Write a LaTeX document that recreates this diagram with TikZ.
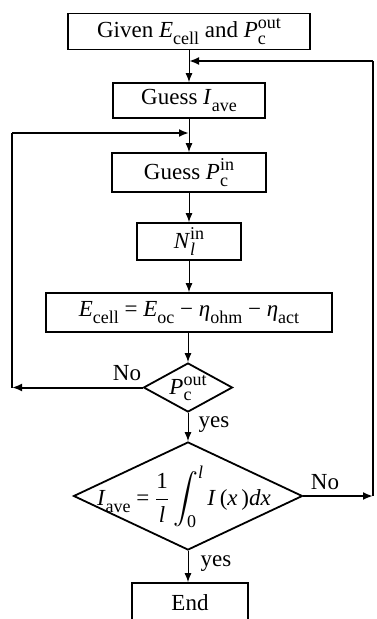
\documentclass[tikz,border=0pt]{standalone}
\usepackage{exscale}
\usepackage{fontspec}
\setmainfont{Liberation Serif}
\usetikzlibrary{arrows.meta,shapes.geometric}
\newcommand\lo[1]{\raisebox{-0.28em}{\fontsize{18}{18}\selectfont #1}}
\newcommand\hi[1]{\raisebox{0.40em}{\fontsize{18}{18}\selectfont #1}}
\newcommand\hilo[2]{\rlap{\lo{#2}}\hi{#1}}
\begin{document}
\begin{tikzpicture}[x=1pt,y=-1pt,
  font=\fontsize{23}{27}\selectfont,
  boxnode/.style={draw,line width=1.8pt,rectangle,inner sep=0pt,align=center},
  dia/.style={draw,line width=1.8pt,diamond,inner sep=0pt},
  txt/.style={inner sep=0pt},
  flow/.style={line width=1pt,-{Latex[length=9pt,width=7pt]}},
  loopline/.style={line width=2pt},
  looparrow/.style={line width=2pt,-{Latex[length=10pt,width=8pt]}},
  lbl/.style={inner sep=0pt}]
\useasboundingbox (0,0) rectangle (376,619);
\clip (0,0) rectangle (376,619);
\node[boxnode,minimum width=242pt,minimum height=36pt] (b1) at (189,31.5)
  {Given \textit{E}\lo{cell} and \textit{P}\hilo{out}{c}};
\node[boxnode,minimum width=152pt,minimum height=35pt] (b2) at (189,100.5)
  {Guess \textit{I}\lo{ave}};
\node[boxnode,minimum width=154pt,minimum height=39pt] (b3) at (189,172.5)
  {Guess \textit{P}\hilo{in}{c}};
\node[boxnode,minimum width=104pt,minimum height=37pt] (b4) at (189,241.5)
  {\textit{N}\hilo{in}{\textit{l}}};
\node[boxnode,minimum width=286pt,minimum height=39pt] (b5) at (189,312.5)
  {\textit{E}\lo{cell} = \textit{E}\lo{oc} − \textit{η}\lo{ohm} − \textit{η}\lo{act}};
\node[dia,minimum width=89pt,minimum height=49pt] (d1) at (188,387.5) {};
\node[txt] (d1t) at (188,388) {\textit{P}\hilo{out}{c}};
\node[dia,minimum width=229pt,minimum height=108pt] (d2) at (188,496) {};
\node[txt] (d2t) at (184,497) {\textit{I}\lo{ave} = $\displaystyle\frac{\mbox{1}}{\mbox{\itshape l}}\int_{\mbox{\fontsize{18}{18}\selectfont 0}}^{\mbox{\fontsize{18}{18}\selectfont\itshape l}}$\,\textit{I}\,(\textit{x}\,)\textit{dx}};
\node[boxnode,minimum width=116pt,minimum height=40pt] (b6) at (190,603) {End};
\coordinate (j0) at (189,61);
\coordinate (j1) at (189,133);
\coordinate (cL1) at (12,387.5);
\coordinate (cL2) at (12,133);
\coordinate (cR1) at (373,496);
\coordinate (cR2) at (373,61);
\draw[flow] (b1.south) -- (b2.north);
\draw[flow] (b2.south) -- (b3.north);
\draw[flow] (b3.south) -- (b4.north);
\draw[flow] (b4.south) -- (b5.north);
\draw[flow] (b5.south -| d1.north) -- (d1.north);
\draw[flow] (d1.south) -- (d2.north);
\draw[flow] (d2.south) -- (d2.south |- b6.north);
\draw[looparrow] (d1.west) -- (cL1);
\draw[loopline] (cL1) -- (cL2);
\draw[looparrow] (cL2) -- (j1);
\draw[looparrow] (d2.east) -- (cR1);
\draw[loopline] (cR1) -- (cR2);
\draw[looparrow] (cR2) -- (j0);
\node[lbl] (no1) at (127,373) {No};
\node[lbl] (yes1) at (214,425) {yes};
\node[lbl] (no2) at (325,482) {No};
\node[lbl] (yes2) at (216,564) {yes};
\end{tikzpicture}
\end{document}
